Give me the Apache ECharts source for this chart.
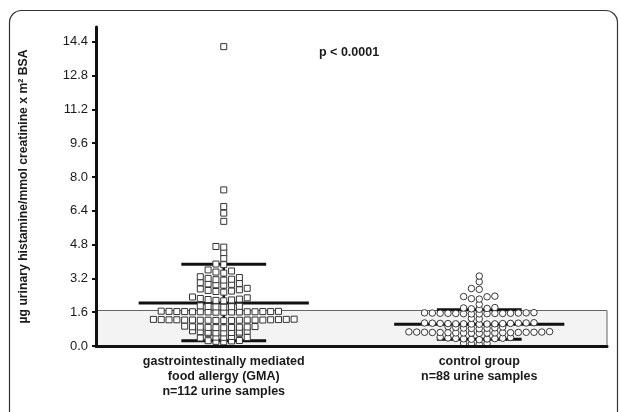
<!DOCTYPE html>
<html><head><meta charset="utf-8">
<script src="https://cdn.jsdelivr.net/npm/echarts@6/dist/echarts.min.js"></script>
<style>html,body{margin:0;padding:0;background:#fff}#c{width:619px;height:412px}</style>
</head><body><div id="c"></div><script>
// ---- data ----
const categories = ['gastrointestinally mediated\nfood allergy (GMA)\nn=112 urine samples', 'control group\nn=88 urine samples'];
const categoryPositions = [0.5, 1.5];
const yTicks = [0, 1.6, 3.2, 4.8, 6.4, 8.0, 9.6, 11.2, 12.8, 14.4];
const gmaValues = [
  0.20, 0.22, 0.24, 0.25, 0.26,
  0.38, 0.40, 0.41, 0.42, 0.45,
  0.60, 0.60, 0.62, 0.62, 0.64, 0.65, 0.66, 0.68, 0.70, 0.72,
  0.86, 0.87, 0.88, 0.88, 0.89, 0.90, 0.90, 0.91, 0.92, 0.94,
  1.20, 1.21, 1.21, 1.22, 1.22, 1.22, 1.23, 1.23, 1.23, 1.23, 1.23, 1.24, 1.24, 1.24, 1.25, 1.25, 1.26, 1.26, 1.27,
  1.60, 1.60, 1.61, 1.61, 1.61, 1.62, 1.62, 1.62, 1.62, 1.63, 1.63, 1.63, 1.63, 1.64, 1.64, 1.65,
  1.84, 1.85, 1.86, 1.87, 1.88, 1.90,
  2.14, 2.16, 2.18, 2.20, 2.22, 2.25, 2.28, 2.32,
  2.55, 2.58, 2.60, 2.63, 2.66, 2.70, 2.73,
  2.88, 2.90, 2.92, 2.94, 2.96, 3.00,
  3.12, 3.14, 3.16, 3.20, 3.24, 3.28,
  3.45, 3.50, 3.55, 3.60,
  3.85, 3.88,
  4.15, 4.42, 4.68, 4.71,
  5.90, 6.29, 6.60, 7.39, 14.17
];
const controlValues = [
  0.08, 0.10, 0.12, 0.14,
  0.30, 0.32, 0.33, 0.34, 0.35, 0.36, 0.37, 0.38, 0.40, 0.42,
  0.60, 0.61, 0.61, 0.62, 0.62, 0.62, 0.63, 0.63, 0.63, 0.64, 0.64, 0.64, 0.65, 0.65, 0.65, 0.66, 0.66, 0.67, 0.68,
  0.82, 0.83, 0.84, 0.85, 0.86, 0.88, 0.90, 0.92,
  1.03, 1.04, 1.04, 1.05, 1.05, 1.05, 1.06, 1.06, 1.07, 1.07, 1.08, 1.08, 1.09, 1.09, 1.10,
  1.28, 1.31,
  1.52, 1.52, 1.53, 1.53, 1.54, 1.54, 1.54, 1.55, 1.55, 1.55, 1.56, 1.56, 1.57, 1.57, 1.58,
  1.74, 1.76, 1.78, 1.80, 1.82,
  1.97,
  2.22, 2.24, 2.33, 2.34, 2.36,
  2.68, 2.72,
  3.04, 3.31
];
// [mean, upper, lower]
const gmaLines = [2.03, 3.87, 0.25];
const controlLines = [1.03, 1.72, 0.32];
const referenceRange = [0, 1.68];
const pLabel = 'p < 0.0001';
const yName = 'µg urinary histamine/mmol creatinine x m² BSA';

// ---- layout helpers ----
const STEP = 0.0306;      // horizontal spacing between markers (x units)
const BIN = 0.2;          // value band that shares one row of the swarm
const WIDE = 0.333, NARROW = 0.166;
function swarm(values, center) {
  const sorted = values.slice().sort((a, b) => a - b);
  const out = [];
  let start = -Infinity, n = 0;
  sorted.forEach(v => {
    if (v > start + BIN) { start = v; n = 0; }
    const slot = n === 0 ? 0 : (n % 2 === 1 ? -(n + 1) / 2 : n / 2);
    n++;
    out.push([center + slot * STEP, v]);
  });
  return out;
}
function seg(x1, x2, y) { return [[x1, y], [x2, y]]; }
function lineSeries(data, w) {
  return { type: 'line', data: data, symbol: 'none', silent: true, z: 2,
           lineStyle: { color: '#111', width: w }, animation: false };
}
function summary(center, l) {
  return [
    lineSeries(seg(center - WIDE, center + WIDE, l[0]), 3),
    lineSeries(seg(center - NARROW, center + NARROW, l[1]), 3),
    lineSeries(seg(center - NARROW, center + NARROW, l[2]), 3),
    lineSeries([[center, l[2]], [center, l[1]]], 2.5)
  ];
}

const chart = echarts.init(document.getElementById('c'), null, { renderer: 'canvas' });
const FONT = 'Liberation Sans, Arial, sans-serif';
chart.setOption({
  animation: false,
  backgroundColor: '#fff',
  grid: { left: 96, right: 12, top: 27, bottom: 66 },
  title: { text: pLabel, left: 314, top: 41,
           textStyle: { fontSize: 12.5, fontWeight: 'bold', color: '#1a1a1a', fontFamily: FONT } },
  graphic: [{ type: 'rect', shape: { x: 9.5, y: 10.5, width: 608, height: 460, r: 12 },
              style: { fill: 'none', stroke: '#333', lineWidth: 1.2 }, silent: true }],
  xAxis: {
    type: 'value', min: 0, max: 2, z: 5,
    splitLine: { show: false },
    axisLine: { show: true, lineStyle: { color: '#111', width: 3 } },
    axisTick: { show: false },
    axisLabel: {
      customValues: categoryPositions, margin: 8,
      formatter: v => categories[categoryPositions.indexOf(v)] || '',
      fontSize: 12.5, fontWeight: 'bold', color: '#1a1a1a', fontFamily: FONT, lineHeight: 15
    }
  },
  yAxis: {
    type: 'value', min: 0, max: 15.1, z: 5,
    name: yName, nameLocation: 'middle', nameGap: 66, nameRotate: 90,
    nameTextStyle: { fontSize: 12.2, fontWeight: 'bold', color: '#1a1a1a', fontFamily: FONT },
    splitLine: { show: false },
    axisLine: { show: true, lineStyle: { color: '#111', width: 3 } },
    axisTick: { show: true, customValues: yTicks, length: 4, lineStyle: { color: '#111', width: 2 } },
    axisLabel: { customValues: yTicks, margin: 8, formatter: v => v.toFixed(1),
                 fontSize: 13, color: '#1a1a1a', fontFamily: FONT }
  },
  series: [
    { type: 'scatter', data: [], z: 1, silent: true,
      markArea: { silent: true, itemStyle: { color: '#f3f3f3', borderColor: '#666', borderWidth: 1 },
        data: [[{ coord: [0, referenceRange[0]] }, { coord: [2, referenceRange[1]] }]] } },
    ...summary(categoryPositions[0], gmaLines),
    ...summary(categoryPositions[1], controlLines),
    { type: 'scatter', data: swarm(gmaValues, categoryPositions[0]), symbol: 'rect', symbolSize: 6, z: 3,
      itemStyle: { color: '#fff', borderColor: '#333', borderWidth: 1, opacity: 1 } },
    { type: 'scatter', data: swarm(controlValues, categoryPositions[1]), symbol: 'circle', symbolSize: 6.5, z: 3,
      itemStyle: { color: '#fff', borderColor: '#222', borderWidth: 0.9, opacity: 1 } }
  ]
});
</script></body></html>
